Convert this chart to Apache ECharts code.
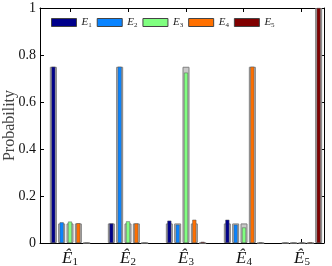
<!DOCTYPE html>
<html><head><meta charset="utf-8">
<script src="https://cdn.jsdelivr.net/npm/echarts@6/dist/echarts.min.js"></script>
<style>html,body{margin:0;padding:0;background:#fff}#c{width:332px;height:266px}</style>
</head><body><div id="c"></div>
<script>
const categories = ['1', '2', '3', '4', '5'];
const seriesNames = ['E1', 'E2', 'E3', 'E4', 'E5'];
const E1 = [0.75, 0.083, 0.095, 0.099, 0];
const E2 = [0.088, 0.75, 0.078, 0.078, 0];
const E3 = [0.091, 0.092, 0.725, 0.066, 0.002];
const E4 = [0.084, 0.083, 0.099, 0.75, 0.003];
const E5 = [0, 0, 0.005, 0.002, 1.0];
const T1 = [0.75, 0.0833, 0.0833, 0.0833, 0];
const T2 = [0.0833, 0.75, 0.0833, 0.0833, 0];
const T3 = [0.0833, 0.0833, 0.75, 0.0833, 0];
const T4 = [0.0833, 0.0833, 0.0833, 0.75, 0];
const T5 = [0, 0, 0, 0, 1.0];
const yTicks = [0, 0.2, 0.4, 0.6, 0.8, 1];
const colors = ['#00008b', '#0a84ff', '#80ff80', '#ff7000', '#800000'];

const measured = [E1, E2, E3, E4, E5];
const theory = [T1, T2, T3, T4, T5];
const pos = categories.map((c, i) => i);
const serif = 'Liberation Serif';

const series = [];
theory.forEach((arr, k) => {
  series.push({
    name: 'T' + (k + 1), type: 'bar', xAxisIndex: 1, yAxisIndex: 0,
    barWidth: 7, barGap: '19%',
    itemStyle: {color: '#c8c8c8', borderColor: '#808080', borderWidth: 1},
    data: arr, silent: true, z: 1
  });
});
measured.forEach((arr, k) => {
  series.push({
    name: seriesNames[k], type: 'bar', xAxisIndex: 0, yAxisIndex: 0,
    barWidth: 4, barGap: '108%',
    itemStyle: {color: colors[k], borderColor: '#555', borderWidth: 0.5},
    data: arr, z: 3
  });
});

const line = {show: true, onZero: false, lineStyle: {color: '#000', width: 1}};
const tick = {show: true, inside: true, length: 4, lineStyle: {color: '#000'}};

const chart = echarts.init(document.getElementById('c'), null, {renderer: 'canvas'});
chart.setOption({
  animation: false,
  grid: [
    {left: 41, right: 1, top: 8, bottom: 23, show: false, outerBoundsMode: 'none', containLabel: false},
    {left: 40, right: 8, top: 8, bottom: 23, show: false, outerBoundsMode: 'none', containLabel: false}
  ],
  legend: {
    data: seriesNames, left: 46, top: 12, icon: 'rect',
    itemWidth: 25, itemHeight: 8, itemGap: 5,
    itemStyle: {borderColor: '#444', borderWidth: 1},
    formatter: n => '{e|E}{s|' + n.slice(1) + '}',
    textStyle: {rich: {
      e: {fontFamily: serif, fontStyle: 'italic', fontSize: 11, color: '#222'},
      s: {fontFamily: serif, fontSize: 7, color: '#222', padding: [5, 0, 0, 0]}
    }}
  },
  xAxis: [
    {
      type: 'category', data: categories, gridIndex: 0, position: 'bottom',
      axisLine: {show: false, onZero: false}, axisTick: {show: false}, splitLine: {show: false},
      axisLabel: {
        margin: 6, interval: 0, hideOverlap: false,
        formatter: v => '{e|Ê}{s|' + v + '}',
        rich: {
          e: {fontFamily: serif, fontStyle: 'italic', fontSize: 17, color: '#111'},
          s: {fontFamily: serif, fontSize: 11, color: '#111', padding: [8, 0, 0, 0]}
        }
      }
    },
    {type: 'category', data: categories, gridIndex: 0, show: false, axisLine: {onZero: false}},
    {
      type: 'value', min: -0.52, max: 4.39, gridIndex: 1, position: 'bottom',
      axisLine: line, axisTick: Object.assign({customValues: pos}, tick),
      axisLabel: {show: false}, splitLine: {show: false}
    },
    {
      type: 'value', min: -0.52, max: 4.39, gridIndex: 1, position: 'top',
      axisLine: line, axisTick: Object.assign({customValues: pos}, tick),
      axisLabel: {show: false}, splitLine: {show: false}
    }
  ],
  yAxis: [
    {type: 'value', min: 0, max: 1, gridIndex: 0, show: false, axisLine: {onZero: false}},
    {
      type: 'value', min: 0, max: 1, interval: 0.2, position: 'left', gridIndex: 1,
      name: 'Probability', nameLocation: 'middle', nameGap: 22, nameMoveOverlap: false,
      nameTextStyle: {fontFamily: serif, fontSize: 16, color: '#444'},
      axisLine: line, axisTick: tick, splitLine: {show: false},
      axisLabel: {
        customValues: yTicks, margin: 4,
        formatter: v => String(+v.toFixed(1)),
        fontFamily: serif, fontSize: 14, color: '#111'
      }
    },
    {
      type: 'value', min: 0, max: 1, interval: 0.2, position: 'right', gridIndex: 1,
      axisLine: line, axisTick: tick, splitLine: {show: false}, axisLabel: {show: false}
    }
  ],
  series: series
});
</script></body></html>
